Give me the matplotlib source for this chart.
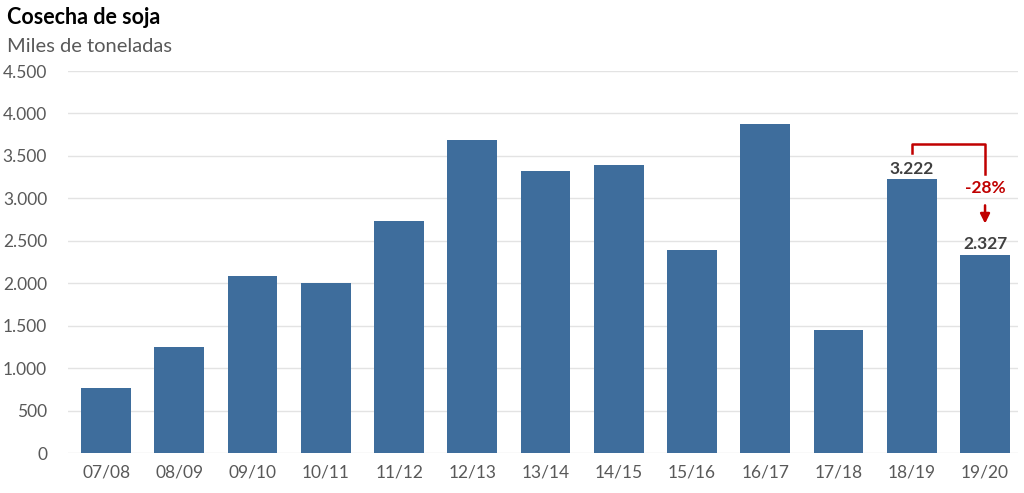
import numpy as np
import matplotlib
matplotlib.use("Agg")
import matplotlib.pyplot as plt

plt.rcParams['font.family'] = ['Lato', 'DejaVu Sans']

# datos
campanas = ['07/08', '08/09', '09/10', '10/11', '11/12', '12/13', '13/14',
            '14/15', '15/16', '16/17', '17/18', '18/19', '19/20']
cosecha = [770, 1250, 2085, 2002, 2730, 3690, 3320, 3390, 2390, 3875, 1450, 3222, 2327]
yticks = [0, 500, 1000, 1500, 2000, 2500, 3000, 3500, 4000, 4500]
variacion = '-28%'

bar_color = '#3E6D9C'
red = '#C00000'

fig = plt.figure(figsize=(10.24, 4.93), dpi=100)
ax = fig.add_axes([68 / 1024, 1 - 453 / 493, 950 / 1024, 382 / 493])

x = np.arange(len(campanas))
ax.bar(x, cosecha, width=0.68, color=bar_color, zorder=3)

ax.set_xlim(-0.52, len(campanas) - 0.55)
ax.set_ylim(0, 4500)
ax.set_yticks(yticks)
ax.set_yticklabels([f'{v:,}'.replace(',', '.') for v in yticks])
ax.set_xticks(x)
ax.set_xticklabels(campanas)
ax.tick_params(axis='both', length=0, labelsize=12.5, colors='#595959')
ax.tick_params(axis='y', pad=15)
ax.tick_params(axis='x', pad=8)
ax.grid(axis='y', color='#e3e3e3', linewidth=1, zorder=0)
for s in ax.spines.values():
    s.set_visible(False)

# etiquetas de las dos ultimas barras
i1, i2 = len(campanas) - 2, len(campanas) - 1
for i in (i1, i2):
    ax.text(x[i], cosecha[i] + 35, f'{cosecha[i]:,}'.replace(',', '.'),
            ha='center', va='bottom', fontsize=12.5, fontweight='bold', color='#404040')

# corchete con variacion
top = 3640
ax.plot([x[i1], x[i1], x[i2], x[i2]], [3530, top, top, 3290],
        color=red, linewidth=1.8, clip_on=False, zorder=4)
ax.text(x[i2], 3120, variacion, ha='center', va='center', fontsize=12.5,
        fontweight='bold', color=red)
ax.annotate('', xy=(x[i2], 2670), xytext=(x[i2], 2950),
            arrowprops=dict(arrowstyle='-|>', color=red, lw=1.8, mutation_scale=14))

fig.text(7 / 1024, 1 - 18 / 493, 'Cosecha de soja', ha='left', va='center',
         fontsize=15.5, fontweight='bold', color='black')
fig.text(7 / 1024, 1 - 47 / 493, 'Miles de toneladas', ha='left', va='center',
         fontsize=14.5, color='#595959')

fig.savefig('out.png', dpi=100)
